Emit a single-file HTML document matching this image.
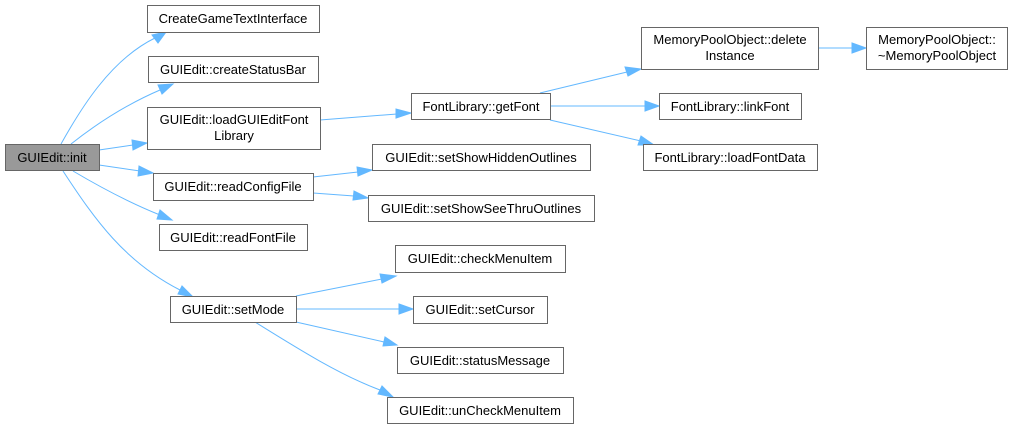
<!DOCTYPE html>
<html><head><meta charset="utf-8"><style>
html,body{margin:0;padding:0;background:#fff;}
svg{display:block;}
text{font-family:"Liberation Sans",sans-serif;font-size:13px;fill:#000;}
.b{fill:#fff;stroke:#666;stroke-width:1;}
.e{fill:none;stroke:#63b8ff;stroke-width:1;}
.a{fill:#63b8ff;stroke:#63b8ff;}
</style></head><body>
<svg width="1009" height="429" viewBox="0 0 1009 429" xmlns="http://www.w3.org/2000/svg">
<path class="e" d="M61,144 C80,110 110,60 155,38"/><polygon class="a" points="166,32 152,35 158,43"/>
<path class="e" d="M71,144 C95,125 125,105 160,90"/><polygon class="a" points="173,84 158,85 162,94"/>
<path class="e" d="M99,150 L133,145"/><polygon class="a" points="147,143 132,140 133,150"/>
<path class="e" d="M99,165 L140,171"/><polygon class="a" points="153,173 139,166 138,176"/>
<path class="e" d="M73,171 C100,187 130,203 160,215"/><polygon class="a" points="172,220 160,210 157,219"/>
<path class="e" d="M63,171 C95,220 125,262 180,290"/><polygon class="a" points="193,297 182,286 178,294"/>
<path class="e" d="M320,120 L397,114"/><polygon class="a" points="411,113 396,109 396,118"/>
<path class="e" d="M313,177 L358,172"/><polygon class="a" points="372,170 357,167 358,176"/>
<path class="e" d="M313,193 L354,196"/><polygon class="a" points="368,198 354,191 353,200"/>
<path class="e" d="M540,93 L627,72"/><polygon class="a" points="641,69 625,67 628,76"/>
<path class="e" d="M550,106 L645,106"/><polygon class="a" points="659,106 645,101 645,111"/>
<path class="e" d="M550,120 L641,141"/><polygon class="a" points="654,145 641,136 638,145"/>
<path class="e" d="M818,48 L852,48"/><polygon class="a" points="866,48 852,43 852,53"/>
<path class="e" d="M296,296 L382,279"/><polygon class="a" points="396,276 380,274 382,283"/>
<path class="e" d="M296,309 L399,309"/><polygon class="a" points="413,309 399,304 399,314"/>
<path class="e" d="M296,322 L384,342"/><polygon class="a" points="397,345 385,337 383,346"/>
<path class="e" d="M255,322 C300,350 340,375 380,390"/><polygon class="a" points="393,397 382,386 378,394"/>
<rect x="5.5" y="144.5" width="94" height="26" fill="#999" stroke="#666"/>
<text x="52" y="162" text-anchor="middle">GUIEdit::init</text>
<rect class="b" x="147.5" y="5.5" width="172" height="27"/><text x="233" y="23" text-anchor="middle">CreateGameTextInterface</text>
<rect class="b" x="148.5" y="56.5" width="170" height="26"/><text x="233" y="74" text-anchor="middle">GUIEdit::createStatusBar</text>
<rect class="b" x="147.5" y="107.5" width="173" height="42"/><text x="234" y="124" text-anchor="middle">GUIEdit::loadGUIEditFont</text><text x="234" y="140" text-anchor="middle">Library</text>
<rect class="b" x="153.5" y="173.5" width="160" height="27"/><text x="233" y="191" text-anchor="middle">GUIEdit::readConfigFile</text>
<rect class="b" x="159.5" y="224.5" width="148" height="26"/><text x="233" y="242" text-anchor="middle">GUIEdit::readFontFile</text>
<rect class="b" x="170.5" y="296.5" width="126" height="26"/><text x="233" y="314" text-anchor="middle">GUIEdit::setMode</text>
<rect class="b" x="411.5" y="93.5" width="139" height="26"/><text x="481" y="111" text-anchor="middle">FontLibrary::getFont</text>
<rect class="b" x="372.5" y="144.5" width="218" height="26"/><text x="481" y="162" text-anchor="middle">GUIEdit::setShowHiddenOutlines</text>
<rect class="b" x="368.5" y="195.5" width="226" height="26"/><text x="481" y="213" text-anchor="middle">GUIEdit::setShowSeeThruOutlines</text>
<rect class="b" x="641.5" y="27.5" width="177" height="42"/><text x="730" y="44" text-anchor="middle">MemoryPoolObject::delete</text><text x="730" y="60" text-anchor="middle">Instance</text>
<rect class="b" x="866.5" y="27.5" width="141" height="42"/><text x="937" y="44" text-anchor="middle">MemoryPoolObject::</text><text x="937" y="60" text-anchor="middle">~MemoryPoolObject</text>
<rect class="b" x="659.5" y="93.5" width="142" height="26"/><text x="730" y="111" text-anchor="middle">FontLibrary::linkFont</text>
<rect class="b" x="643.5" y="144.5" width="174" height="26"/><text x="730" y="162" text-anchor="middle">FontLibrary::loadFontData</text>
<rect class="b" x="395.5" y="245.5" width="170" height="27"/><text x="480" y="263" text-anchor="middle">GUIEdit::checkMenuItem</text>
<rect class="b" x="413.5" y="296.5" width="134" height="27"/><text x="480" y="314" text-anchor="middle">GUIEdit::setCursor</text>
<rect class="b" x="397.5" y="347.5" width="166" height="26"/><text x="480" y="365" text-anchor="middle">GUIEdit::statusMessage</text>
<rect class="b" x="387.5" y="397.5" width="186" height="26"/><text x="480" y="415" text-anchor="middle">GUIEdit::unCheckMenuItem</text>
</svg>
</body></html>
